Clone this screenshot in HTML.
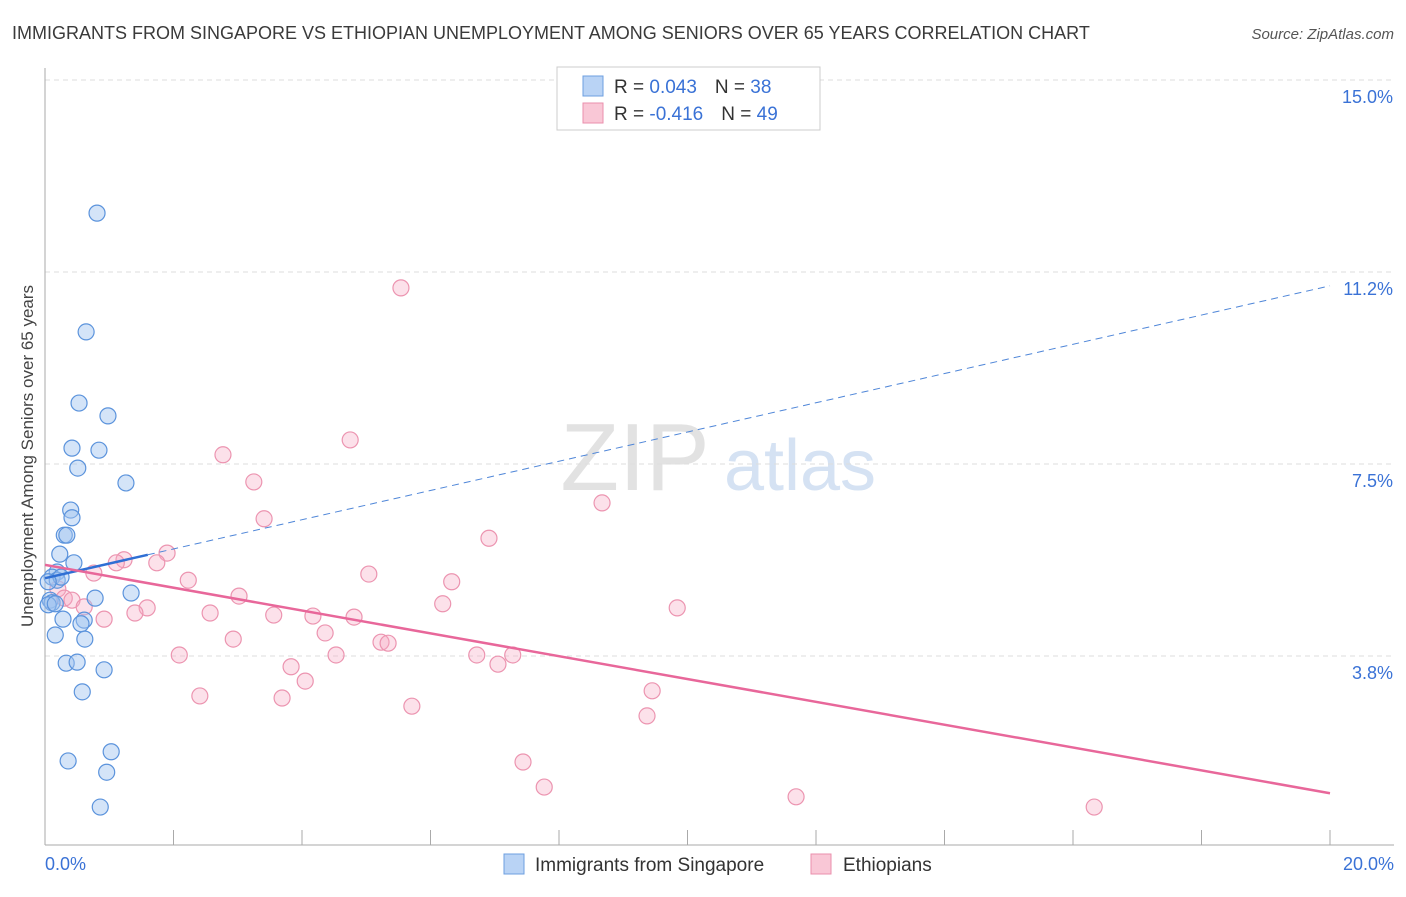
<!DOCTYPE html>
<html><head><meta charset="utf-8"><style>
body{margin:0;background:#fff;font-family:"Liberation Sans",sans-serif;}
svg text{font-family:"Liberation Sans",sans-serif;}
</style></head><body>
<svg id="chart" width="1406" height="892" xmlns="http://www.w3.org/2000/svg">
<text x="12" y="39" font-size="18" fill="#3a3a3a">IMMIGRANTS FROM SINGAPORE VS ETHIOPIAN UNEMPLOYMENT AMONG SENIORS OVER 65 YEARS CORRELATION CHART</text>
<text x="1394" y="39" font-size="15" fill="#555" text-anchor="end" font-style="italic">Source: ZipAtlas.com</text>
<text transform="translate(33,456) rotate(-90)" font-size="17" fill="#444" text-anchor="middle">Unemployment Among Seniors over 65 years</text>
<g>
<text x="635" y="490" font-size="96" fill="#e2e2e2" text-anchor="middle" font-family="Liberation Serif">ZIP</text>
<text x="800" y="490" font-size="72" fill="#d5e2f3" text-anchor="middle">atlas</text>
</g>
<g id="grid"></g><g id="axes"></g><g id="pts"></g><g id="trends"></g>
<g>
<rect x="557" y="67" width="263" height="63" fill="#fff" stroke="#ccc"/>
<rect x="583" y="76" width="20" height="20" fill="#b9d3f5" stroke="#6d9fe0"/>
<rect x="583" y="103" width="20" height="20" fill="#f9c7d6" stroke="#ea8fac"/>
<text x="614" y="93" font-size="19" fill="#333">R = <tspan fill="#3a72d6">0.043</tspan><tspan dx="18">N = </tspan><tspan fill="#3a72d6">38</tspan></text>
<text x="614" y="120" font-size="19" fill="#333">R = <tspan fill="#3a72d6">-0.416</tspan><tspan dx="18">N = </tspan><tspan fill="#3a72d6">49</tspan></text>
</g>
<g>
<rect x="504" y="854" width="20" height="20" fill="#b9d3f5" stroke="#6d9fe0"/>
<text x="535" y="871" font-size="19" fill="#333">Immigrants from Singapore</text>
<rect x="811" y="854" width="20" height="20" fill="#f9c7d6" stroke="#ea8fac"/>
<text x="843" y="871" font-size="19" fill="#333">Ethiopians</text>
</g>
</svg>
<script>
const yTicks=[15.0,11.25,7.5,3.75];
const yTickLabels=["15.0%","11.2%","7.5%","3.8%"];
const xTicks=[0,2,4,6,8,10,12,14,16,18,20];
const blueX=[0.81,0.64,0.53,0.98,0.42,0.84,0.51,1.26,0.40,0.42,0.30,0.34,0.23,0.45,0.19,0.11,0.19,0.25,0.05,1.34,0.78,0.08,0.11,0.05,0.16,0.28,0.61,0.56,0.16,0.62,0.33,0.50,0.92,0.58,1.03,0.36,0.96,0.86];
const blueY=[12.40,10.08,8.69,8.44,7.81,7.77,7.42,7.13,6.60,6.45,6.11,6.11,5.74,5.57,5.39,5.29,5.23,5.29,5.20,4.98,4.88,4.84,4.79,4.75,4.77,4.47,4.45,4.38,4.16,4.08,3.61,3.63,3.48,3.05,1.88,1.70,1.48,0.80];
const pinkX=[5.54,4.75,2.77,3.25,8.67,3.41,6.91,1.90,1.23,1.11,1.74,0.76,5.04,2.23,6.33,0.20,3.02,0.30,0.42,6.19,9.84,0.61,1.59,1.40,2.57,3.56,4.17,4.81,0.92,4.36,2.93,5.23,5.34,2.09,4.53,6.72,7.28,3.83,7.05,4.05,9.45,2.41,3.69,5.71,9.37,7.44,7.77,11.69,16.33];
const pinkY=[10.94,7.97,7.68,7.15,6.74,6.43,6.05,5.76,5.63,5.57,5.57,5.37,5.35,5.23,5.20,5.06,4.92,4.88,4.84,4.77,4.69,4.71,4.69,4.59,4.59,4.55,4.53,4.51,4.47,4.20,4.08,4.02,4.00,3.77,3.77,3.77,3.77,3.54,3.59,3.26,3.07,2.97,2.93,2.77,2.58,1.68,1.19,1.00,0.80];
const blueTrend=[5.27,10.98];
const pinkTrend=[5.53,1.07];
const X=v=>45+v*64.25, Y=v=>848-v*51.2;
const NS="http://www.w3.org/2000/svg";
function mk(p,t,a){const e=document.createElementNS(NS,t);for(const k in a)e.setAttribute(k,a[k]);document.getElementById(p).appendChild(e);return e;}
yTicks.forEach((t,i)=>{
 const l=mk('grid','line',{x1:45,x2:1394,y1:Y(t),y2:Y(t),stroke:'#ddd','stroke-dasharray':'5,4'});
 
 
 const tx=mk('grid','text',{x:1393,y:Y(t)+23,'font-size':18,fill:'#3a72d6','text-anchor':'end'});
 tx.textContent=yTickLabels[i];
 
 
});
const ax=mk('axes','line',{x1:45,x2:45,y1:68,y2:845,stroke:'#aaa'});


const bx=mk('axes','line',{x1:45,x2:1394,y1:845,y2:845,stroke:'#aaa'});


xTicks.forEach(t=>{
 const l=mk('axes','line',{x1:X(t),x2:X(t),y1:830,y2:845,stroke:'#aaa'});
 
 
});
[[0,"0.0%","start",45],[20,"20.0%","end",1394]].forEach(d=>{
 const tx=mk('axes','text',{x:d[3],y:870,'font-size':18,fill:'#3a72d6','text-anchor':d[2]});
 tx.textContent=d[1];
 
 
});
pinkX.forEach((v,i)=>{
 const c=mk('pts','circle',{cx:X(v),cy:Y(pinkY[i]),r:8,fill:'rgba(246,170,195,0.35)',stroke:'#ec94b0','stroke-width':1.2});
 
 
});
blueX.forEach((v,i)=>{
 const c=mk('pts','circle',{cx:X(v),cy:Y(blueY[i]),r:8,fill:'rgba(160,195,240,0.45)',stroke:'#5b93dc','stroke-width':1.2});
 
 
});
const bt=v=>blueTrend[0]+(blueTrend[1]-blueTrend[0])*v/20;
const pt=v=>pinkTrend[0]+(pinkTrend[1]-pinkTrend[0])*v/20;
const t1=mk('trends','line',{x1:X(0),y1:Y(bt(0)),x2:X(1.6),y2:Y(bt(1.6)),stroke:'#2f6fd4','stroke-width':2.5});


const t2=mk('trends','line',{x1:X(1.6),y1:Y(bt(1.6)),x2:X(20),y2:Y(bt(20)),stroke:'#4f86d8','stroke-width':1,'stroke-dasharray':'7,5'});


const t3=mk('trends','line',{x1:X(0),y1:Y(pt(0)),x2:X(20),y2:Y(pt(20)),stroke:'#e8679a','stroke-width':2.5});


</script>
</body></html>
